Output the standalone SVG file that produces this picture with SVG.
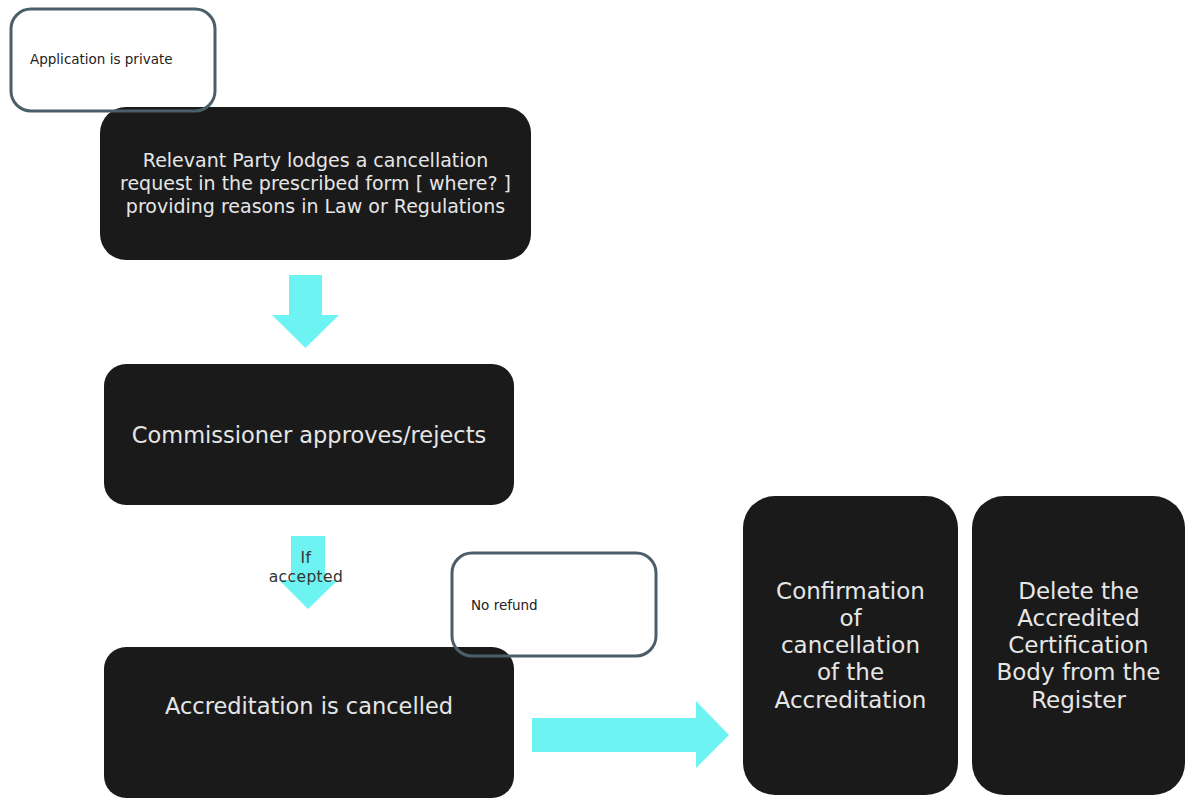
<svg xmlns="http://www.w3.org/2000/svg" width="1186" height="799" viewBox="0 0 1186 799">
  <style>
    .box { fill: #1a1a1a; }
    .note { fill: none; stroke: #4b5f6a; stroke-width: 3; }
    .arrow { fill: #6ef3f3; }
    .t { font-family: "DejaVu Sans", "Liberation Sans", sans-serif; fill: #e6e6e6; text-anchor: middle; }
    .n { font-family: "DejaVu Sans", "Liberation Sans", sans-serif; fill: #222222; font-size: 13.5px; }
    .lbl { font-family: "DejaVu Sans", "Liberation Sans", sans-serif; fill: #333333; font-size: 15.5px; text-anchor: middle; letter-spacing: 0.4px; }
  </style>
  <rect width="1186" height="799" fill="#ffffff"/>

  <!-- connectors: block arrows between steps -->
  <g id="connectors">
    <polygon class="arrow" points="289,275 322,275 322,315 339,315 305.5,348 272,315 289,315"/>
    <polygon class="arrow" points="291,536 325,536 325,580 338,580 308,609 279,580 291,580"/>
    <polygon class="arrow" points="532,718 696,718 696,701 729,735 696,768 696,752 532,752"/>
    <text class="lbl" x="306" y="563">If</text>
    <text class="lbl" x="306" y="582">accepted</text>
  </g>

  <g id="request">
    <rect class="box" x="100" y="107" width="431" height="153" rx="26"/>
    <text class="t" font-size="19" x="315.5" y="167">Relevant Party lodges a cancellation</text>
    <text class="t" font-size="19" x="315.5" y="190">request in the prescribed form [ where? ]</text>
    <text class="t" font-size="19" x="315.5" y="213">providing reasons in Law or Regulations</text>
  </g>

  <g id="note-private">
    <rect class="note" x="11" y="9" width="204" height="102" rx="20"/>
    <text class="n" x="30" y="64">Application is private</text>
  </g>

  <g id="decision">
    <rect class="box" x="104" y="364" width="410" height="141" rx="22"/>
    <text class="t" font-size="22.5" x="309" y="443">Commissioner approves/rejects</text>
  </g>

  <g id="cancelled">
    <rect class="box" x="104" y="647" width="410" height="151" rx="22"/>
    <text class="t" font-size="22.5" x="309" y="714">Accreditation is cancelled</text>
  </g>

  <g id="note-refund">
    <rect class="note" x="452" y="553" width="204" height="103" rx="20"/>
    <text class="n" x="471" y="610">No refund</text>
  </g>

  <g id="confirmation">
    <rect class="box" x="743" y="496" width="215" height="299" rx="32"/>
    <text class="t" font-size="23" x="850.5" y="599">Confirmation</text>
    <text class="t" font-size="23" x="850.5" y="626">of</text>
    <text class="t" font-size="23" x="850.5" y="653">cancellation</text>
    <text class="t" font-size="23" x="850.5" y="680">of the</text>
    <text class="t" font-size="23" x="850.5" y="708">Accreditation</text>
  </g>

  <g id="delete">
    <rect class="box" x="972" y="496" width="213" height="299" rx="32"/>
    <text class="t" font-size="23" x="1078.5" y="599">Delete the</text>
    <text class="t" font-size="23" x="1078.5" y="626">Accredited</text>
    <text class="t" font-size="23" x="1078.5" y="653">Certification</text>
    <text class="t" font-size="23" x="1078.5" y="680">Body from the</text>
    <text class="t" font-size="23" x="1078.5" y="708">Register</text>
  </g>
</svg>
